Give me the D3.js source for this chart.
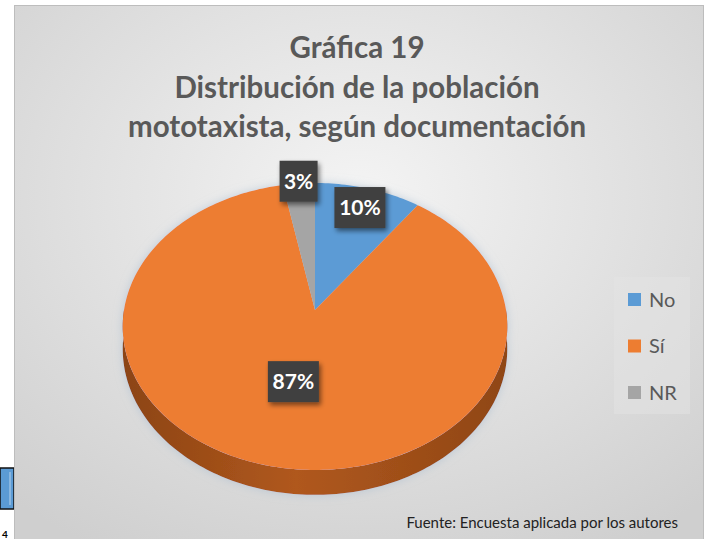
<!DOCTYPE html>
<html>
<head>
<meta charset="utf-8">
<script src="https://cdn.jsdelivr.net/npm/d3@7"></script>
<style>
  body { margin: 0; background: #fff; }
  svg { display: block; }
  text { font-family: Lato, "Open Sans", sans-serif; }
</style>
</head>
<body>
<svg width="707" height="539"></svg>
<script>
// data
var categories = ["No", "Sí", "NR"];
var values = [10, 87, 3];
var valueLabels = ["10%", "87%", "3%"];
var colors = ["#5B9BD5", "#ED7D31", "#A5A5A5"];
var sideColors = ["#3F6F9C", "#A9531C", "#777777"];
var titleLines = ["Gráfica 19", "Distribución de la población", "mototaxista, según documentación"];
var source = "Fuente: Encuesta aplicada por los autores";

var svg = d3.select("svg"),
    width = +svg.attr("width"),
    height = +svg.attr("height");

var defs = svg.append("defs");

// panel background gradient
var bg = defs.append("radialGradient")
    .attr("id", "bg")
    .attr("cx", "50%").attr("cy", "35%").attr("r", "75%");
bg.append("stop").attr("offset", "0%").attr("stop-color", "#f4f4f4");
bg.append("stop").attr("offset", "100%").attr("stop-color", "#cfcfcf");

var sideGrad = defs.append("linearGradient")
    .attr("id", "side")
    .attr("x1", "0%").attr("x2", "100%");
sideGrad.append("stop").attr("offset", "0%").attr("stop-color", "#8c4414");
sideGrad.append("stop").attr("offset", "45%").attr("stop-color", "#b0581d");
sideGrad.append("stop").attr("offset", "100%").attr("stop-color", "#8f4615");

var shadow = defs.append("filter").attr("id", "shadow")
    .attr("x", "-20%").attr("y", "-20%").attr("width", "140%").attr("height", "140%");
shadow.append("feGaussianBlur").attr("in", "SourceAlpha").attr("stdDeviation", 5).attr("result", "b");
shadow.append("feFlood").attr("flood-color", "#9fb6cc").attr("flood-opacity", 0.55);
shadow.append("feComposite").attr("in2", "b").attr("operator", "in").attr("result", "s");
var m = shadow.append("feMerge");
m.append("feMergeNode").attr("in", "s");
m.append("feMergeNode").attr("in", "SourceGraphic");

var boxShadow = defs.append("filter").attr("id", "boxShadow")
    .attr("x", "-30%").attr("y", "-30%").attr("width", "160%").attr("height", "160%");
boxShadow.append("feGaussianBlur").attr("in", "SourceAlpha").attr("stdDeviation", 2.5).attr("result", "b");
boxShadow.append("feOffset").attr("dx", 2).attr("dy", 3).attr("result", "o");
boxShadow.append("feComponentTransfer").append("feFuncA").attr("type", "linear").attr("slope", 0.5);
var m2 = boxShadow.append("feMerge");
m2.append("feMergeNode");
m2.append("feMergeNode").attr("in", "SourceGraphic");

// left page artefacts (cut off from the document)
svg.append("rect").attr("x", 0).attr("y", 468).attr("width", 14).attr("height", 41)
    .attr("fill", "#5B9BD5").attr("stroke", "#111").attr("stroke-width", 1.5);
svg.append("line").attr("x1", 10).attr("x2", 10).attr("y1", 472).attr("y2", 505)
    .attr("stroke", "#b9d3ec").attr("stroke-width", 1);
svg.append("text").attr("x", 2).attr("y", 538).attr("font-size", 10)
    .attr("font-weight", "bold").attr("fill", "#000").text("4");

// chart panel
svg.append("rect")
    .attr("x", 14.5).attr("y", 5.5)
    .attr("width", 689).attr("height", 545)
    .attr("fill", "url(#bg)")
    .attr("stroke", "#bdbdbd").attr("stroke-width", 1);

// title
svg.append("g").selectAll("text")
    .data(titleLines)
    .enter().append("text")
    .attr("x", 357)
    .attr("y", function (d, i) { return 58 + i * 39.5; })
    .attr("text-anchor", "middle")
    .attr("font-size", 29.5)
    .attr("font-weight", "bold")
    .attr("fill", "#595959")
    .text(function (d) { return d; });

// 3D pie with a bit of perspective: front of the disc is nearer, so larger
var cx = 315, cy = 310, rX = 191, rY = 141.6, persp = 0.115, depth = 22;

function project(a, r, dz) {
    var u = Math.sin(a) * r, v = -Math.cos(a) * r;
    var s = 1 / (1 - persp * v);
    return [cx + rX * u * s, cy + rY * v * s + (dz || 0) * s];
}

var pie = d3.pie().sort(null).value(function (d) { return d; });
var arcs = pie(values);
var line = d3.line();

function sample(a0, a1) {
    var n = Math.max(2, Math.ceil((a1 - a0) / 0.02));
    return d3.range(0, n + 1).map(function (k) { return a0 + (a1 - a0) * k / n; });
}

var pieG = svg.append("g").attr("filter", "url(#shadow)");

// side wall (only the front half is visible)
arcs.forEach(function (d, i) {
    var a0 = Math.max(d.startAngle, Math.PI / 2),
        a1 = Math.min(d.endAngle, 3 * Math.PI / 2);
    if (a1 <= a0) return;
    var steps = sample(a0, a1);
    var pts = steps.map(function (a) { return project(a, 1, 0); })
        .concat(steps.slice().reverse().map(function (a) { return project(a, 1, depth); }));
    pieG.append("path")
        .attr("d", line(pts) + "Z")
        .attr("fill", i === 1 ? "url(#side)" : sideColors[i]);
});

// top face
pieG.append("g").selectAll("path")
    .data(arcs)
    .enter().append("path")
    .attr("d", function (d) {
        var pts = [project(0, 0, 0)].concat(sample(d.startAngle, d.endAngle).map(function (a) {
            return project(a, 1, 0);
        }));
        return line(pts) + "Z";
    })
    .attr("fill", function (d, i) { return colors[i]; });

// data labels (small slices pushed out towards the rim)
function labelFactor(v) {
    if (v < 5) return 1.02;
    if (v < 20) return 0.83;
    return 0.49;
}
var labG = svg.append("g");
arcs.forEach(function (d, i) {
    var mid = (d.startAngle + d.endAngle) / 2;
    var p = project(mid, labelFactor(d.value), 0);
    var g = labG.append("g").attr("transform", "translate(" + p[0] + "," + p[1] + ")");
    var t = valueLabels[i];
    var w = t.length * 13 + 12;
    g.append("rect")
        .attr("x", -w / 2).attr("y", -20.5)
        .attr("width", w).attr("height", 41)
        .attr("fill", "#404040")
        .attr("filter", "url(#boxShadow)");
    g.append("text")
        .attr("text-anchor", "middle")
        .attr("y", 7.5)
        .attr("font-size", 21)
        .attr("font-weight", "bold")
        .attr("fill", "#ffffff")
        .text(t);
});

// legend
var legend = svg.append("g");
legend.append("rect")
    .attr("x", 614).attr("y", 277).attr("width", 76).attr("height", 137)
    .attr("fill", "#e4e4e4").attr("opacity", 0.5);
var items = legend.selectAll("g.item")
    .data(categories)
    .enter().append("g")
    .attr("class", "item")
    .attr("transform", function (d, i) { return "translate(628," + (293 + i * 46.5) + ")"; });
items.append("rect")
    .attr("width", 13).attr("height", 13)
    .attr("fill", function (d, i) { return colors[i]; });
items.append("text")
    .attr("x", 21).attr("y", 13.5)
    .attr("font-size", 20)
    .attr("fill", "#595959")
    .text(function (d) { return d; });

// source note
svg.append("text")
    .attr("x", 678).attr("y", 528)
    .attr("text-anchor", "end")
    .attr("font-size", 15)
    .attr("fill", "#222")
    .text(source);
</script>
</body>
</html>
